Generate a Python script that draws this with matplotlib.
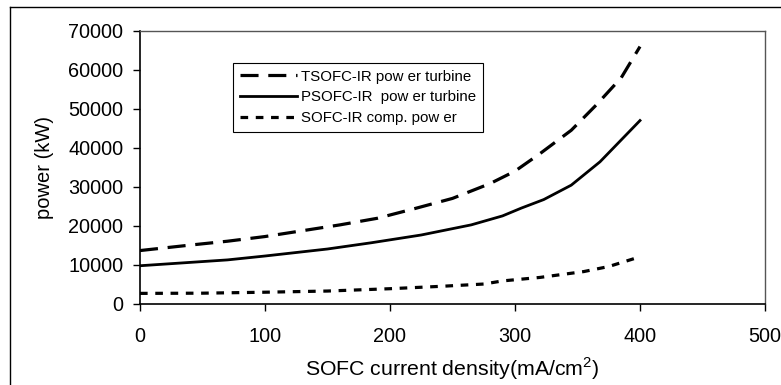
import matplotlib
matplotlib.use("Agg")
import matplotlib.pyplot as plt
from matplotlib.lines import Line2D

plt.rcParams['font.family'] = ['Liberation Sans', 'DejaVu Sans']
plt.rcParams['lines.scale_dashes'] = False
plt.rcParams['mathtext.fontset'] = 'custom'
plt.rcParams['mathtext.rm'] = 'Liberation Sans'

# Data
x_ts = [0, 40, 70, 100, 130, 160, 190, 220, 250, 280, 300, 320, 345, 365, 385, 400]
y_ts = [13600, 15000, 16000, 17200, 18700, 20200, 21900, 24400, 27000, 30800, 34000, 38500, 44500, 51000, 58000, 66000]

x_ps = [0, 70, 100, 150, 185, 225, 265, 290, 305, 323, 345, 368, 400]
y_ps = [9700, 11200, 12200, 14000, 15600, 17600, 20200, 22500, 24500, 26700, 30400, 36400, 47000]

x_cp = [0, 50, 100, 150, 200, 240, 275, 290, 320, 355, 375, 400]
y_cp = [2600, 2650, 2900, 3200, 3800, 4400, 5000, 5800, 6700, 8200, 9500, 12000]

labels = ["TSOFC-IR pow er turbine", "PSOFC-IR  pow er turbine", "SOFC-IR comp. pow er"]
xticks = [0, 100, 200, 300, 400, 500]
yticks = [0, 10000, 20000, 30000, 40000, 50000, 60000, 70000]

fig = plt.figure(figsize=(7.81, 3.85), dpi=100)
W, H = 781, 385
ax = fig.add_axes([140 / W, 1 - 303.5 / H, 625 / W, 272.5 / H])

ax.plot(x_ts, y_ts, color='black', lw=2.3, dashes=(13, 7), label=labels[0])
ax.plot(x_ps, y_ps, color='black', lw=2.0, label=labels[1])
ax.plot(x_cp, y_cp, color='black', lw=2.3, dashes=(5.5, 5.5), label=labels[2])

ax.set_xlim(0, 500)
ax.set_ylim(0, 70000)
ax.set_xticks(xticks)
ax.set_yticks(yticks)
ax.tick_params(axis='both', direction='out', labelsize=14.3, colors='black')
ax.tick_params(axis='y', length=5, width=1, pad=7)
ax.tick_params(axis='x', length=5, width=1, pad=12)
for s in ['left', 'bottom']:
    ax.spines[s].set_color('black')
    ax.spines[s].set_linewidth(1.2)
for s in ['top', 'right']:
    ax.spines[s].set_color('#555555')
    ax.spines[s].set_linewidth(1.0)

ax.set_ylabel('power (kW)', fontsize=14.5, labelpad=10)
ax.set_xlabel('SOFC current density(mA/cm$^2$)', fontsize=15.3, labelpad=7)

leg = ax.legend(loc='upper left', bbox_to_anchor=(0.149, 0.8826), fontsize=10.8,
                frameon=True, fancybox=False, edgecolor='black', framealpha=1,
                handlelength=3.8, handletextpad=0.3, borderpad=0.45, labelspacing=0.45,
                borderaxespad=0)
leg.get_frame().set_linewidth(0.8)

# outer frame
fig.add_artist(Line2D([10 / W, 10 / W], [0, 1 - 7 / H], transform=fig.transFigure, color='black', lw=1.0))
fig.add_artist(Line2D([10 / W, 1], [1 - 7 / H, 1 - 7 / H], transform=fig.transFigure, color='black', lw=1.0))

fig.savefig('out.png', dpi=100)
